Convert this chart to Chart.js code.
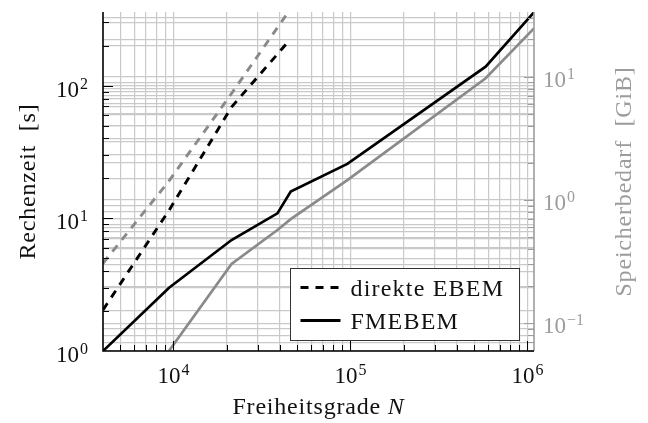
<!DOCTYPE html>
<html>
<head>
<meta charset="utf-8">
<script src="https://cdn.jsdelivr.net/npm/chart.js@4.4.0/dist/chart.umd.min.js"></script>
<style>
  html, body { margin: 0; padding: 0; background: #fff; }
  #wrap { width: 648px; height: 423px; }
</style>
</head>
<body>
<div id="wrap"><canvas id="chart" width="648" height="423"></canvas></div>
<script>
// degrees of freedom
const nEBEM = [4000, 9450, 21300, 43800];
const nFM = [4000, 9450, 21300, 38700, 46000, 96100, 581000, 1090000];
// run time [s] (left axis)
const timeEBEM = [2.04, 11.5, 69, 209];
const timeFM = [1.0, 3.0, 6.86, 10.9, 15.9, 25.7, 139, 357];
// memory [GiB] (right axis)
const memEBEM = [0.307, 1.43, 7.3, 32.2];
const memFM = [null, 0.06, 0.303, 0.571, 0.70, 1.45, 9.7, 24.6];

const legendLabels = ['direkte EBEM', 'FMEBEM'];
const xTickValues = [1e4, 1e5, 1e6];
const xTickLabels = ['10^4', '10^5', '10^6'];
const yTickValues = [1, 10, 100];
const yTickLabels = ['10^0', '10^1', '10^2'];
const y2TickValues = [0.1, 1, 10];
const y2TickLabels = ['10^\u22121', '10^0', '10^1'];

const FONT = '"Liberation Serif", "DejaVu Serif", serif';
const GRAY = '#8a8a8a';
const LIGHT = '#9c9c9c';

const pts = (xs, ys) => xs.map((x, i) => ({ x, y: ys[i] }));

// 1..9 x 10^k inside the range
function logTicks(min, max) {
  const out = [];
  for (let e = Math.floor(Math.log10(min)); e <= Math.ceil(Math.log10(max)); e++) {
    for (let m = 1; m <= 9; m++) {
      const v = m * Math.pow(10, e);
      if (v > min * 1.0001 && v < max * 0.9999) out.push(v);
    }
  }
  return out;
}

function supLabel(ctx, label, x, y, align, color) {
  const [base, exp] = label.split('^');
  ctx.fillStyle = color;
  ctx.textAlign = 'left';
  ctx.textBaseline = 'alphabetic';
  ctx.font = '23px ' + FONT;
  const wb = ctx.measureText(base).width;
  ctx.font = '16px ' + FONT;
  const we = ctx.measureText(exp).width;
  const w = wb + 1 + we;
  const x0 = align === 'right' ? x - w : align === 'center' ? x - w / 2 : x;
  ctx.font = '23px ' + FONT;
  ctx.fillText(base, x0, y);
  ctx.font = '16px ' + FONT;
  ctx.fillText(exp, x0 + wb + 1, y - 8);
}

const decor = {
  id: 'decor',
  afterDraw(chart) {
    const ctx = chart.ctx;
    const a = chart.chartArea;
    const sx = chart.scales.x, sy = chart.scales.y, sy2 = chart.scales.y2;
    ctx.save();

    // tick marks
    ctx.lineWidth = 1;
    ctx.strokeStyle = '#000';
    ctx.beginPath();
    logTicks(sy.min, sy.max).forEach(v => {
      const p = Math.round(sy.getPixelForValue(v)) + 0.5;
      const len = yTickValues.includes(v) ? 10 : 6;
      ctx.moveTo(a.left, p); ctx.lineTo(a.left + len, p);
    });
    logTicks(sx.min, sx.max).forEach(v => {
      const p = Math.round(sx.getPixelForValue(v)) + 0.5;
      const len = xTickValues.includes(v) ? 10 : 6;
      ctx.moveTo(p, a.bottom); ctx.lineTo(p, a.bottom - len);
    });
    ctx.stroke();
    ctx.strokeStyle = LIGHT;
    ctx.beginPath();
    logTicks(sy2.min, sy2.max).forEach(v => {
      const p = Math.round(sy2.getPixelForValue(v)) + 0.5;
      const len = y2TickValues.some(t => Math.abs(t - v) < 1e-9) ? 10 : 6;
      ctx.moveTo(a.right, p); ctx.lineTo(a.right - len, p);
    });
    ctx.stroke();

    // axis lines
    ctx.lineWidth = 1.6;
    ctx.strokeStyle = LIGHT;
    ctx.beginPath();
    ctx.moveTo(a.right, a.top); ctx.lineTo(a.right, a.bottom);
    ctx.stroke();
    ctx.strokeStyle = '#000';
    ctx.beginPath();
    ctx.moveTo(a.left, a.top); ctx.lineTo(a.left, a.bottom); ctx.lineTo(a.right, a.bottom);
    ctx.stroke();

    // tick labels
    yTickValues.forEach((v, i) => supLabel(ctx, yTickLabels[i], a.left - 15, sy.getPixelForValue(v) + 11, 'right', '#111'));
    xTickValues.forEach((v, i) => supLabel(ctx, xTickLabels[i], sx.getPixelForValue(v), a.bottom + 32, 'center', '#111'));
    y2TickValues.forEach((v, i) => supLabel(ctx, y2TickLabels[i], a.right + 9, sy2.getPixelForValue(v) + 10, 'left', LIGHT));

    // axis titles (slightly spaced to mimic the wider TeX font)
    ctx.letterSpacing = '0.8px';
    const midY = (a.top + a.bottom) / 2;
    ctx.font = '24px ' + FONT;
    ctx.textAlign = 'center';
    ctx.textBaseline = 'middle';
    ctx.fillStyle = '#111';
    ctx.save();
    ctx.translate(29, midY); ctx.rotate(-Math.PI / 2);
    ctx.fillText('Rechenzeit  [s]', 0, 0);
    ctx.restore();
    ctx.fillStyle = LIGHT;
    ctx.save();
    ctx.translate(625, midY); ctx.rotate(-Math.PI / 2);
    ctx.fillText('Speicherbedarf  [GiB]', 0, 0);
    ctx.restore();

    ctx.fillStyle = '#111';
    ctx.textBaseline = 'alphabetic';
    ctx.textAlign = 'left';
    const t1 = 'Freiheitsgrade ';
    ctx.font = '24px ' + FONT;
    const w1 = ctx.measureText(t1).width;
    ctx.font = 'italic 24px ' + FONT;
    const w2 = ctx.measureText('N').width;
    const x0 = (a.left + a.right) / 2 - (w1 + w2) / 2;
    ctx.font = '24px ' + FONT;
    ctx.fillText(t1, x0, 414);
    ctx.font = 'italic 24px ' + FONT;
    ctx.fillText('N', x0 + w1, 414);

    // legend
    const bx = 290.5, by = 268.5, bw = 229, bh = 72;
    ctx.fillStyle = '#fff';
    ctx.fillRect(bx, by, bw, bh);
    ctx.strokeStyle = '#333';
    ctx.lineWidth = 1;
    ctx.strokeRect(bx, by, bw, bh);
    const rows = [by + 19, by + 52];
    ctx.strokeStyle = '#000';
    ctx.lineWidth = 2.8;
    rows.forEach((ry, i) => {
      ctx.setLineDash(i === 0 ? [8, 7] : []);
      ctx.beginPath();
      ctx.moveTo(bx + 10, ry); ctx.lineTo(bx + 50, ry);
      ctx.stroke();
    });
    ctx.setLineDash([]);
    ctx.fillStyle = '#111';
    ctx.font = '24px ' + FONT;
    ctx.letterSpacing = '1.2px';
    rows.forEach((ry, i) => ctx.fillText(legendLabels[i], bx + 60, ry + 8));
    ctx.letterSpacing = '0px';

    ctx.restore();
  }
};

const gridOpts = { color: '#c9c9c9', lineWidth: 1.2, drawTicks: false };

new Chart(document.getElementById('chart').getContext('2d'), {
  type: 'line',
  plugins: [decor],
  data: {
    datasets: [
      { label: legendLabels[0] + ' (Speicher)', data: pts(nEBEM, memEBEM), yAxisID: 'y2',
        borderColor: GRAY, borderWidth: 2.9, borderDash: [8, 7] },
      { label: legendLabels[1] + ' (Speicher)', data: pts(nFM, memFM), yAxisID: 'y2',
        borderColor: GRAY, borderWidth: 2.7 },
      { label: legendLabels[0], data: pts(nEBEM, timeEBEM), yAxisID: 'y',
        borderColor: '#000', borderWidth: 2.9, borderDash: [8, 7] },
      { label: legendLabels[1], data: pts(nFM, timeFM), yAxisID: 'y',
        borderColor: '#000', borderWidth: 2.7 },
    ],
  },
  options: {
    responsive: false,
    devicePixelRatio: 1,
    animation: false,
    layout: { padding: { top: 12, left: 0, right: 0, bottom: 0 } },
    elements: { point: { radius: 0 }, line: { tension: 0, fill: false } },
    plugins: { legend: { display: false }, tooltip: { enabled: false } },
    scales: {
      x: {
        type: 'logarithmic', min: 4000, max: 1090000,
        grid: gridOpts, border: { display: false },
        ticks: { display: false },
        afterBuildTicks: (s) => { s.ticks = logTicks(s.min, s.max).map(v => ({ value: v })); },
        afterFit: (s) => { s.height = 72; },
      },
      y: {
        type: 'logarithmic', position: 'left', min: 1, max: 359,
        grid: gridOpts, border: { display: false },
        ticks: { display: false },
        afterBuildTicks: (s) => { s.ticks = logTicks(s.min, s.max).map(v => ({ value: v })); },
        afterFit: (s) => { s.width = 103; },
      },
      y2: {
        type: 'logarithmic', position: 'right', min: 0.0597, max: 33.4,
        grid: gridOpts, border: { display: false },
        ticks: { display: false },
        afterBuildTicks: (s) => { s.ticks = logTicks(s.min, s.max).map(v => ({ value: v })); },
        afterFit: (s) => { s.width = 114; },
      },
    },
  },
});
</script>
</body>
</html>
